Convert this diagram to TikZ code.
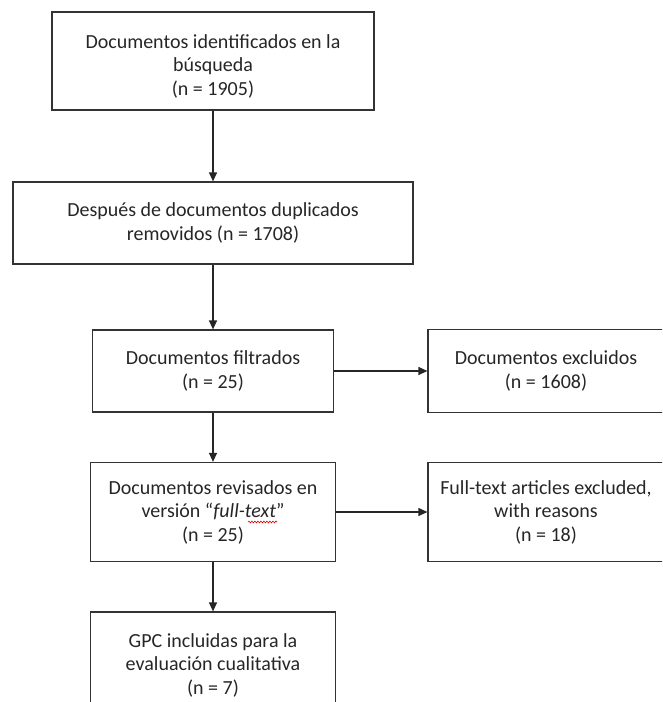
\documentclass[tikz,border=0pt]{standalone}
\usepackage{fontspec}
\setmainfont{Carlito}
\usetikzlibrary{arrows.meta,decorations.pathmorphing}
\begin{document}
\begin{tikzpicture}[x=1pt,y=-1pt,
  box/.style={draw=black!80,line width=1.2pt,rectangle,align=center,inner sep=0pt,
    font=\fontsize{20}{23.5}\selectfont,text=black!85},
  conn/.style={draw=black!85,line width=1.2pt,-{Triangle[length=9pt,width=8pt]}},
  squiggle/.style={draw=red!85!black,line width=0.6pt,decorate,
    decoration={snake,amplitude=0.9pt,segment length=3pt}}]
\useasboundingbox (0,0) rectangle (662,702);
\clip (0,0) rectangle (662,702);
\node[box,minimum width=322pt,minimum height=98pt] (b1) at (213,61)
  {\rule{0pt}{24pt}Documentos identificados en la\\búsqueda\\(n = 1905)};
\node[box,minimum width=400pt,minimum height=82pt] (b2) at (213,223)
  {Después de documentos duplicados\\removidos (n = 1708)};
\node[box,minimum width=241pt,minimum height=82pt] (b3) at (213,371)
  {Documentos filtrados\\(n = 25)};
\node[box,minimum width=236pt,minimum height=83pt] (b4) at (546,371)
  {Documentos excluidos\\(n = 1608)};
\node[box,minimum width=245pt,minimum height=99pt] (b5) at (213,512)
  {Documentos revisados en\\versión “\textit{full-text}”\\(n = 25)};
\node[box,minimum width=236pt,minimum height=99pt] (b6) at (546,512)
  {Full-text articles excluded,\\with reasons\\(n = 18)};
\node[box,minimum width=245pt,minimum height=106pt] (b7) at (213,665)
  {GPC incluidas para la\\evaluación cualitativa\\(n = 7)};
\coordinate (w1) at (248,522);
\coordinate (w2) at (277,522);
\draw[squiggle] (w1) -- (w2);
\draw[conn] (b1.south) -- (b2.north);
\draw[conn] (b2.south) -- (b3.north);
\draw[conn] (b3.south) -- (b5.north);
\draw[conn] (b5.south) -- (b7.north);
\draw[conn] (b3.east) -- (b4.west);
\draw[conn] (b5.east) -- (b6.west);
\end{tikzpicture}
\end{document}
